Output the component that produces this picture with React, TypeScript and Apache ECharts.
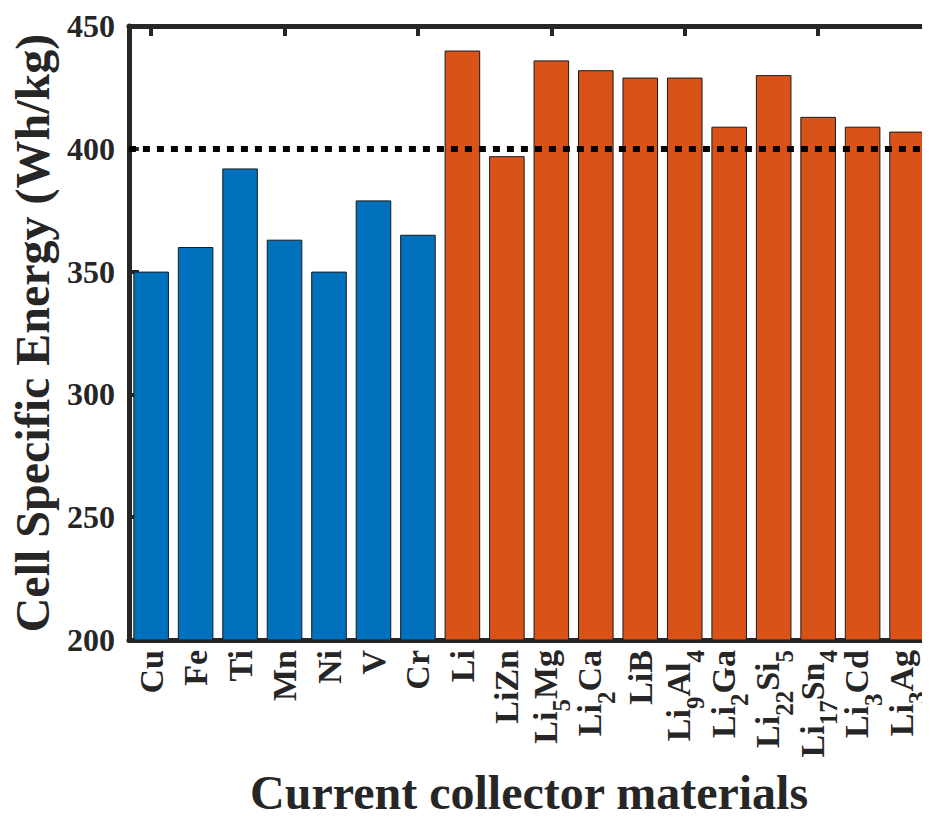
import React, { useEffect, useRef } from "react";
import * as echarts from "echarts";

// Data (labels use _{..} for subscripts)
const blueNames = ["Cu", "Fe", "Ti", "Mn", "Ni", "V", "Cr"];
const blueValues = [350, 360, 392, 363, 350, 379, 365];
const orangeNames = [
  "Li", "LiZn", "Li_{5}Mg", "Li_{2}Ca", "LiB", "Li_{9}Al_{4}", "Li_{2}Ga",
  "Li_{22}Si_{5}", "Li_{17}Sn_{4}", "Li_{3}Cd", "Li_{3}Ag",
];
const orangeValues = [440, 397, 436, 432, 429, 429, 409, 430, 413, 409, 407];
const yTicks = [200, 250, 300, 350, 400, 450];
const targetLine = 400;

const BLUE = "#0072BD";
const ORANGE = "#D95319";
const AX = "#262626";
const FONT = "Liberation Serif";

function toRich(label: string): string {
  if (label.indexOf("_{") < 0) return `{m|${label}}`;
  const parts = label.split(/(_\{[^}]*\})/).filter((p) => p.length > 0);
  return parts
    .map((p) => (p.startsWith("_{") ? `{s|${p.slice(2, -1)}}` : `{n|${p}}`))
    .join("");
}

export default function App() {
  const ref = useRef<HTMLDivElement>(null);
  useEffect(() => {
    if (!ref.current) return;
    const chart = echarts.init(ref.current, null, { renderer: "svg" });
    const categories = [...blueNames, ...orangeNames];
    const data = [
      ...blueValues.map((v) => ({ value: v, itemStyle: { color: BLUE } })),
      ...orangeValues.map((v) => ({ value: v, itemStyle: { color: ORANGE } })),
    ];
    const tickStyle = { show: true, inside: true, length: 10, lineStyle: { color: AX, width: 4 } };
    const lineStyle = { show: true, lineStyle: { color: AX, width: 5 } };
    chart.setOption({
      animation: false,
      backgroundColor: "#fff",
      grid: { left: 127, right: 0, top: 26, bottom: 175, containLabel: false },
      xAxis: [
        {
          type: "category",
          data: categories,
          position: "bottom",
          axisLine: lineStyle,
          axisTick: { ...tickStyle, alignWithLabel: true },
          axisLabel: {
            rotate: 90,
            interval: 0,
            margin: 10,
            color: AX,
            fontFamily: FONT,
            fontWeight: "bold",
            formatter: (v: string) => toRich(v),
            rich: {
              m: { fontFamily: FONT, fontWeight: "bold", fontSize: 34, color: AX, lineHeight: 36 },
              n: { fontFamily: FONT, fontWeight: "bold", fontSize: 34, color: AX, lineHeight: 46, verticalAlign: "top" },
              s: { fontFamily: FONT, fontWeight: "bold", fontSize: 25, color: AX, lineHeight: 46, verticalAlign: "bottom" },
            },
          },
          name: "Current collector materials",
          nameLocation: "middle",
          nameGap: 128,
          nameTextStyle: { fontFamily: FONT, fontWeight: "bold", fontSize: 48, color: AX },
        },
        {
          type: "category",
          data: categories,
          position: "top",
          axisLine: lineStyle,
          axisTick: { ...tickStyle, alignWithLabel: true },
          axisLabel: { show: false },
        },
      ],
      yAxis: [
        {
          type: "value",
          min: yTicks[0],
          max: yTicks[yTicks.length - 1],
          interval: 50,
          position: "left",
          axisLine: lineStyle,
          axisTick: tickStyle,
          splitLine: { show: false },
          axisLabel: { fontFamily: FONT, fontWeight: "bold", fontSize: 32, color: AX, margin: 14 },
          name: "Cell Specific Energy (Wh/kg)",
          nameLocation: "middle",
          nameGap: 68,
          nameTextStyle: { fontFamily: FONT, fontWeight: "bold", fontSize: 48, color: AX },
        },
        {
          type: "value",
          min: yTicks[0],
          max: yTicks[yTicks.length - 1],
          interval: 50,
          position: "right",
          axisLine: lineStyle,
          axisTick: tickStyle,
          splitLine: { show: false },
          axisLabel: { show: false },
        },
      ],
      series: [
        {
          type: "bar",
          data,
          barCategoryGap: "20%",
          itemStyle: { borderColor: "#1a1a1a", borderWidth: 1 },
          markLine: {
            silent: true,
            symbol: ["none", "none"],
            label: { show: false },
            lineStyle: { color: "#000", width: 6, type: [7, 7] },
            data: [{ yAxis: targetLine }],
          },
        },
      ],
    });
    return () => chart.dispose();
  }, []);
  return <div ref={ref} style={{ width: 930, height: 821, marginLeft: -8, marginTop: -8 }} />;
}
